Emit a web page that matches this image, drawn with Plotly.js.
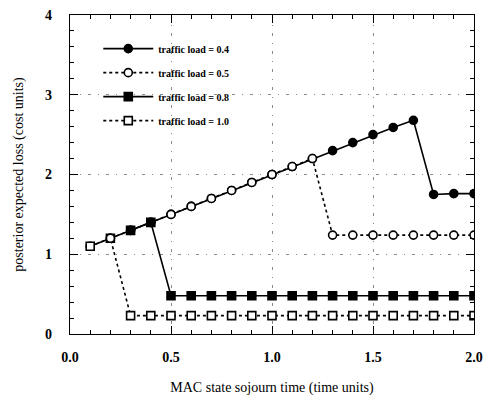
<!DOCTYPE html>
<html><head><meta charset="utf-8">
<script src="https://cdn.plot.ly/plotly-3.0.1.min.js"></script>
<style>html,body{margin:0;padding:0;background:#fff}#chart{width:486px;height:398px}</style>
</head><body><div id="chart"></div>
<script>
// Data
var x04 = [0.1,0.2,0.3,0.4,0.5,0.6,0.7,0.8,0.9,1.0,1.1,1.2,1.3,1.4,1.5,1.6,1.7,1.8,1.9,2.0];
var y04 = [1.1,1.2,1.3,1.4,1.5,1.6,1.7,1.8,1.9,2.0,2.1,2.2,2.3,2.4,2.5,2.59,2.68,1.75,1.76,1.76];
var x05 = [0.2,0.3,0.4,0.5,0.6,0.7,0.8,0.9,1.0,1.1,1.2,1.3,1.4,1.5,1.6,1.7,1.8,1.9,2.0];
var y05 = [1.2,1.3,1.4,1.5,1.6,1.7,1.8,1.9,2.0,2.1,2.2,1.24,1.24,1.24,1.24,1.24,1.24,1.24,1.24];
var x08 = [0.3,0.4,0.5,0.6,0.7,0.8,0.9,1.0,1.1,1.2,1.3,1.4,1.5,1.6,1.7,1.8,1.9,2.0];
var y08 = [1.3,1.4,0.48,0.48,0.48,0.48,0.48,0.48,0.48,0.48,0.48,0.48,0.48,0.48,0.48,0.48,0.48,0.48];
var x10 = [0.1,0.2,0.3,0.4,0.5,0.6,0.7,0.8,0.9,1.0,1.1,1.2,1.3,1.4,1.5,1.6,1.7,1.8,1.9,2.0];
var y10 = [1.1,1.2,0.23,0.23,0.23,0.23,0.23,0.23,0.23,0.23,0.23,0.23,0.23,0.23,0.23,0.23,0.23,0.23,0.23,0.23];
var seriesNames = ['traffic load = 0.4','traffic load = 0.5','traffic load = 0.8','traffic load = 1.0'];
var xTickVals = [0.0,0.5,1.0,1.5,2.0];
var xTickText = ['0.0','0.5','1.0','1.5','2.0'];
var yTickVals = [0,1,2,3,4];
var yTickText = ['0','1','2','3','4'];

var serif = 'Liberation Serif, Times New Roman, serif';
function tr(x, y, name, dash, symbol, fill, rank) {
  return {
    x: x, y: y, name: name, type: 'scatter', mode: 'lines+markers',
    line: {color: '#000', width: 1.6, dash: dash},
    marker: {symbol: symbol, size: 8, color: fill, line: {color: '#000', width: 1.6}},
    legendrank: rank, legendgroup: name
  };
}
var data = [
  tr(x04, y04, seriesNames[0], 'solid', 'circle', '#000', 1),
  tr(x10, y10, seriesNames[3], 'dot', 'square', '#fff', 4),
  tr(x05, y05, seriesNames[1], 'dot', 'circle', '#fff', 2),
  tr(x08, y08, seriesNames[2], 'solid', 'square', '#000', 3)
];
var gridStyle = {showgrid: true, gridcolor: '#8a8a8a', griddash: '3px,7px,1px,7px', gridwidth: 1};
var layout = {
  width: 486, height: 398,
  margin: {l: 70, r: 12, t: 15, b: 64},
  paper_bgcolor: '#fff', plot_bgcolor: '#fff',
  font: {family: serif, color: '#000'},
  showlegend: true,
  legend: {x: 0.07, y: 0.94, xanchor: 'left', yanchor: 'top', bgcolor: 'rgba(0,0,0,0)',
    font: {family: serif, size: 10, color: '#000', weight: 'bold'}, traceorder: 'grouped', tracegroupgap: 5, itemwidth: 50},
  xaxis: Object.assign({
    range: [0, 2], tickvals: xTickVals, ticktext: xTickText,
    ticks: 'inside', ticklen: 8, tickwidth: 1, tickcolor: '#000',
    showline: true, linecolor: '#000', linewidth: 1.2, mirror: 'allticks',
    zeroline: false, ticklabelstandoff: 10, ticklabeloverflow: 'allow',
    tickfont: {family: serif, size: 14, color: '#000', weight: 'bold'},
    minor: {dtick: 0.1, tick0: 0, ticks: 'inside', ticklen: 4, tickcolor: '#000', showgrid: false},
    title: {text: 'MAC state sojourn time (time units)', font: {family: serif, size: 14, color: '#000'}, standoff: 18}
  }, gridStyle),
  yaxis: Object.assign({
    range: [0, 4], tickvals: yTickVals, ticktext: yTickText,
    ticks: 'inside', ticklen: 8, tickwidth: 1, tickcolor: '#000',
    showline: true, linecolor: '#000', linewidth: 1.2, mirror: 'allticks',
    zeroline: false, ticklabelstandoff: 14, ticklabeloverflow: 'allow',
    tickfont: {family: serif, size: 14, color: '#000', weight: 'bold'},
    minor: {dtick: 0.2, tick0: 0, ticks: 'inside', ticklen: 4, tickcolor: '#000', showgrid: false},
    title: {text: 'posterior expected loss (cost units)', font: {family: serif, size: 14, color: '#000'}, standoff: 18}
  }, gridStyle)
};
Plotly.newPlot('chart', data, layout, {displayModeBar: false, staticPlot: true});
</script>
</body></html>
